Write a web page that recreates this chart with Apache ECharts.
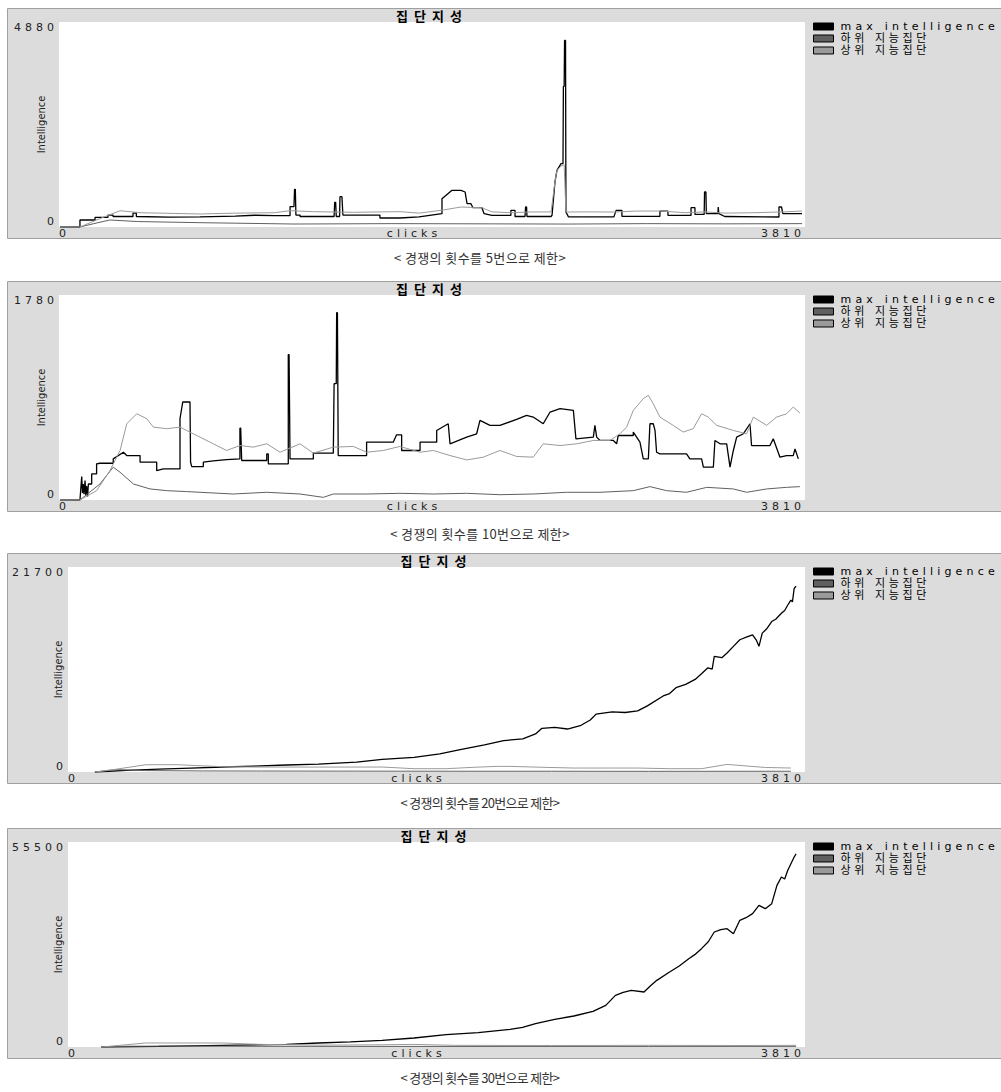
<!DOCTYPE html>
<html>
<head>
<meta charset="utf-8">
<script src="https://cdn.jsdelivr.net/npm/echarts@6/dist/echarts.min.js"></script>
<style>
html,body{margin:0;padding:0;background:#ffffff;}
#chart{width:1001px;height:1092px;}
</style>
</head>
<body>
<div id="chart"></div>
<script>
// ---------------- data ----------------
const seriesNames = ['max intelligence', '하위 지능집단', '상위 지능집단'];
const chartTitle = '집단지성';
const xAxisName = 'clicks';
const yAxisName = 'Intelligence';
const xMaxTick = 3810;
const yMaxTicks = [4880, 1780, 21700, 55500];
const captions = [
  '< 경쟁의 횟수를 5번으로 제한>',
  '< 경쟁의 횟수를 10번으로 제한>',
  '< 경쟁의 횟수를 20번으로 제한>',
  '< 경쟁의 횟수를 30번으로 제한>'
];

// panel 1 : [clicks, intelligence]
const p1Max = [[5,0],[107,0],[107,167],[184,167],[184,230],[250,230],[250,285],[276,285],[276,250],[378,250],[378,328],[395,328],[395,250],[560,235],[720,240],[900,260],[1000,280],[1100,270],[1180,270],[1180,484],[1200,484],[1203,897],[1207,897],[1210,285],[1231,285],[1231,250],[1405,250],[1408,587],[1413,587],[1416,250],[1433,250],[1435,722],[1445,722],[1450,285],[1639,285],[1639,214],[1741,214],[1839,240],[1956,317],[1956,674],[2007,872],[2053,872],[2074,833],[2084,555],[2104,555],[2114,460],[2160,460],[2171,317],[2211,277],[2308,277],[2308,396],[2329,396],[2329,250],[2380,250],[2383,476],[2388,476],[2390,250],[2513,250],[2518,280],[2533,1070],[2543,1348],[2564,1507],[2574,1507],[2576,3346],[2580,3346],[2582,4440],[2587,4440],[2589,357],[2602,240],[2834,240],[2845,396],[2875,396],[2875,254],[3069,254],[3069,380],[3110,380],[3110,277],[3228,277],[3228,460],[3248,460],[3248,300],[3295,300],[3297,833],[3304,833],[3306,317],[3365,317],[3367,476],[3370,317],[3400,250],[3677,238],[3677,476],[3690,476],[3697,317],[3795,317]];
const p1Low = [[5,0],[107,0],[184,87],[260,167],[400,130],[720,103],[1200,71],[1700,80],[2200,75],[2600,70],[3000,80],[3400,75],[3795,80]];
const p1High = [[5,0],[107,0],[209,200],[312,388],[414,340],[720,310],[900,330],[1100,340],[1180,388],[1300,365],[1500,350],[1741,365],[1839,330],[1956,400],[2053,476],[2160,460],[2211,360],[2308,340],[2400,357],[2513,360],[2533,1070],[2543,1348],[2564,1450],[2580,1480],[2589,357],[2700,360],[2834,357],[2950,380],[3069,380],[3200,340],[3300,360],[3400,330],[3550,340],[3700,360],[3795,380]];

// panel 2
const p2Max = [[5,0],[107,0],[116,203],[120,60],[124,139],[128,50],[133,168],[137,40],[141,120],[146,30],[150,139],[167,139],[167,226],[192,226],[192,314],[209,319],[277,319],[277,357],[329,415],[346,386],[414,386],[414,328],[499,328],[499,255],[533,270],[618,270],[618,706],[632,851],[669,851],[672,328],[678,290],[737,290],[737,328],[788,340],[856,350],[924,357],[924,624],[928,624],[933,343],[1061,343],[1061,400],[1069,400],[1069,314],[1171,314],[1171,1263],[1175,1263],[1180,357],[1299,357],[1299,407],[1401,407],[1405,1010],[1416,1010],[1418,1626],[1422,1626],[1426,386],[1571,386],[1571,502],[1707,502],[1724,566],[1750,566],[1750,430],[1844,430],[1844,502],[1929,502],[1929,604],[1988,662],[1997,488],[2082,546],[2133,575],[2150,691],[2201,648],[2252,648],[2337,700],[2388,735],[2422,720],[2473,662],[2508,764],[2559,793],[2627,778],[2640,531],[2729,546],[2737,648],[2746,546],[2763,517],[2831,517],[2848,488],[2856,560],[2933,560],[2933,590],[2967,502],[2984,357],[3010,357],[3018,662],[3035,662],[3044,604],[3052,415],[3069,400],[3205,400],[3222,357],[3282,357],[3291,285],[3342,285],[3350,517],[3376,488],[3410,488],[3427,285],[3444,430],[3461,546],[3495,575],[3529,662],[3537,473],[3631,473],[3648,531],[3682,372],[3716,386],[3750,386],[3759,444],[3776,357]];
const p2Low = [[5,0],[107,0],[209,139],[277,285],[312,241],[380,139],[465,96],[550,81],[652,73],[720,67],[890,52],[1061,67],[1231,52],[1350,23],[1401,52],[1571,52],[1741,58],[1912,52],[2082,58],[2252,46],[2422,52],[2592,67],[2763,67],[2933,81],[3018,116],[3103,81],[3205,67],[3308,110],[3444,96],[3512,67],[3614,96],[3716,110],[3784,116]];
const p2High = [[5,0],[107,0],[192,81],[260,255],[312,430],[346,662],[397,749],[448,706],[482,633],[550,619],[618,633],[652,604],[720,546],[788,488],[856,430],[924,473],[992,459],[1061,488],[1129,415],[1231,488],[1299,407],[1401,459],[1503,465],[1571,415],[1656,430],[1741,465],[1844,415],[1912,430],[1997,386],[2082,348],[2167,372],[2252,430],[2337,378],[2422,372],[2473,488],[2559,473],[2644,488],[2729,517],[2814,517],[2865,575],[2899,633],[2933,778],[2984,880],[3010,909],[3035,836],[3069,720],[3137,648],[3188,590],[3239,619],[3282,749],[3316,720],[3359,648],[3444,604],[3512,575],[3546,720],[3614,648],[3665,720],[3716,749],[3750,807],[3784,755]];

// panel 3
const p3Max = [[139,0],[304,175],[470,300],[634,420],[800,530],[964,630],[1129,740],[1294,840],[1492,1050],[1624,1330],[1789,1540],[1922,1925],[2021,2345],[2153,2870],[2252,3325],[2351,3500],[2417,4025],[2450,4620],[2516,4725],[2582,4550],[2648,4900],[2700,5500],[2730,6125],[2813,6370],[2880,6300],[2945,6475],[2995,7000],[3077,8050],[3110,8300],[3143,8925],[3193,9275],[3242,9800],[3275,10400],[3308,11025],[3330,10900],[3341,12250],[3380,12100],[3407,12600],[3440,13300],[3473,14000],[3510,14300],[3539,14525],[3560,13900],[3572,13300],[3589,14700],[3610,15100],[3638,15925],[3660,16200],[3688,16800],[3705,17100],[3721,17675],[3737,18200],[3745,18000],[3754,19425],[3764,19670]];
const p3Low = [[139,0],[250,250],[400,150],[700,110],[1000,100],[1500,90],[2000,80],[2500,80],[3000,70],[3500,75],[3737,80]];
const p3High = [[139,0],[250,300],[403,770],[568,770],[800,560],[964,525],[1300,520],[1624,525],[1789,350],[1955,350],[2100,500],[2219,595],[2285,595],[2450,500],[2615,420],[2945,420],[3110,350],[3275,350],[3407,805],[3500,650],[3605,480],[3737,420]];

// panel 4
const p4Max = [[172,0],[469,180],[799,451],[1129,722],[1294,1083],[1460,1400],[1624,1805],[1789,2436],[1955,3339],[2120,3880],[2285,4783],[2350,5300],[2417,6317],[2516,7490],[2615,8392],[2714,9656],[2780,11280],[2830,13987],[2870,14800],[2912,15341],[2978,14890],[3010,16500],[3044,18048],[3110,20304],[3160,21928],[3209,23914],[3240,25000],[3275,26621],[3310,28500],[3341,31133],[3375,31800],[3407,32035],[3440,30682],[3473,34291],[3505,35000],[3539,36096],[3572,38352],[3605,37450],[3638,38803],[3665,43766],[3688,46022],[3705,45500],[3721,47827],[3754,51437],[3764,52300]];
const p4Low = [[172,0],[300,200],[500,250],[1000,180],[2000,150],[3000,160],[3764,170]];
const p4High = [[172,0],[300,600],[400,1083],[799,1083],[1000,700],[1300,500],[1624,600],[1789,700],[2000,450],[2500,400],[3000,450],[3500,400],[3764,450]];

const panelMax = [p1Max, p2Max, p3Max, p4Max];
const panelLow = [p1Low, p2Low, p3Low, p4Low];
const panelHigh = [p1High, p2High, p3High, p4High];

// ---------------- layout / style ----------------
const layout = [
  {box: 8,   gridTop: 22,  gridLeft: 59, caption: 257,  nameGap: 12, capSpace: 0.4},
  {box: 281, gridTop: 295, gridLeft: 59, caption: 533,  nameGap: 12, capSpace: 0.4},
  {box: 553, gridTop: 567, gridLeft: 68, caption: 802,  nameGap: 4,  capSpace: -0.7},
  {box: 828, gridTop: 842, gridLeft: 68, caption: 1077, nameGap: 4,  capSpace: -0.7}
];
const plotRight = 805;
const plotHeight = 205;
const seriesColors = ['#000000', '#606060', '#9a9a9a'];
const seriesWidths = [1.3, 1, 1];
const wideFont = '"DejaVu Sans", "Noto Sans CJK KR", sans-serif';
const narrowFont = '"Liberation Sans Narrow", "DejaVu Sans Condensed", "Liberation Sans", sans-serif';

const graphicEls = [];
layout.forEach((L, i) => {
  graphicEls.push({type: 'rect', z: -10, shape: {x: 7.5, y: L.box + 0.5, width: 1000, height: 230},
    style: {fill: '#dcdcdc', stroke: '#a0a0a0', lineWidth: 1}});
  const cx = (L.gridLeft + plotRight) / 2;
  graphicEls.push({type: 'text', z: 50, x: cx, y: L.box + 7,
    style: {text: chartTitle, fill: '#000', font: 'bold 13px "Noto Sans CJK KR", sans-serif',
      textAlign: 'center', align: 'center', textVerticalAlign: 'middle', verticalAlign: 'middle'}});
  graphicEls.push({type: 'text', z: 50, x: 480, y: L.caption,
    style: {text: captions[i], fill: '#333', font: '13px "Noto Sans CJK KR", sans-serif',
      textAlign: 'center', align: 'center', textVerticalAlign: 'middle', verticalAlign: 'middle'}});
});

const plainNumber = v => String(v);

const option = {
  animation: false,
  grid: layout.map(L => ({left: L.gridLeft, top: L.gridTop, width: plotRight - L.gridLeft, height: plotHeight,
    show: true, backgroundColor: '#ffffff', borderWidth: 0, containLabel: false})),
  xAxis: layout.map((L, i) => ({
    type: 'value', gridIndex: i, min: 0, max: xMaxTick, interval: xMaxTick,
    axisLine: {show: false}, axisTick: {show: false}, splitLine: {show: false},
    axisLabel: {margin: 1, fontSize: 11, fontFamily: wideFont, color: '#222', alignMinLabel: 'left', alignMaxLabel: 'right', formatter: plainNumber},
    name: xAxisName, nameLocation: 'middle', nameGap: 1, nameMoveOverlap: false,
    nameTextStyle: {fontSize: 11, fontFamily: wideFont, color: '#222', verticalAlign: 'top', padding: [0, 36, 0, 0]}
  })),
  yAxis: layout.map((L, i) => ({
    type: 'value', gridIndex: i, min: 0, max: yMaxTicks[i], interval: yMaxTicks[i],
    axisLine: {show: false}, axisTick: {show: false}, splitLine: {show: false},
    axisLabel: {margin: 1, fontSize: 11, fontFamily: wideFont, color: '#222', formatter: plainNumber,
      verticalAlignMinLabel: 'bottom', verticalAlignMaxLabel: 'top'},
    name: yAxisName, nameLocation: 'middle', nameRotate: 90, nameGap: L.nameGap, nameMoveOverlap: false,
    nameTextStyle: {fontSize: 11, fontFamily: narrowFont, color: '#222'}
  })),
  legend: layout.map(L => ({
    data: seriesNames, orient: 'vertical', left: 813, top: L.box + 13, padding: 0,
    icon: 'rect', itemWidth: 20, itemHeight: 7, itemGap: 1, selectedMode: false,
    itemStyle: {borderColor: '#000', borderWidth: 1},
    textStyle: {fontSize: 11, lineHeight: 8, fontFamily: wideFont, color: '#000', padding: [0, 0, 0, 2]}
  })),
  graphic: {elements: graphicEls},
  series: []
};

layout.forEach((L, i) => {
  [panelMax[i], panelLow[i], panelHigh[i]].forEach((data, k) => {
    option.series.push({
      type: 'line', name: seriesNames[k], xAxisIndex: i, yAxisIndex: i,
      data: data, showSymbol: false, symbol: 'none', color: seriesColors[k],
      lineStyle: {color: seriesColors[k], width: seriesWidths[k]},
      emphasis: {disabled: true}, silent: true, clip: true
    });
  });
});

const chart = echarts.init(document.getElementById('chart'), null, {renderer: 'svg'});
chart.setOption(option);

// wide bitmap-style font of the original: emulate with letter spacing
function applySpacing() {
  const rules = {
    'clicks': 4, 'max intelligence': 4.2, '하위 지능집단': 3.6, '상위 지능집단': 3.6
  };
  rules[chartTitle] = 6;
  document.querySelectorAll('#chart svg text').forEach(t => {
    const s = t.textContent;
    let ls = null;
    if (/^\d+$/.test(s)) ls = 4;
    else if (rules[s] !== undefined) ls = rules[s];
    else {
      const ci = captions.indexOf(s);
      if (ci >= 0) ls = layout[ci].capSpace;
    }
    if (ls !== null) t.setAttribute('letter-spacing', ls + 'px');
  });
}
chart.on('finished', applySpacing);
setTimeout(applySpacing, 50);
setTimeout(applySpacing, 300);
</script>
</body>
</html>
